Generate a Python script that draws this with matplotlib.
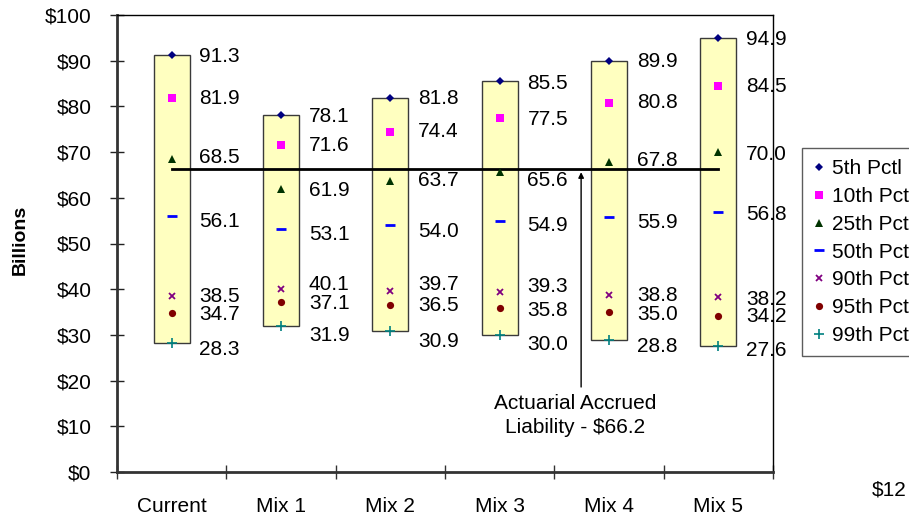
import matplotlib
matplotlib.use("Agg")
import matplotlib.pyplot as plt
from matplotlib.lines import Line2D

plt.rcParams['font.family'] = ['Liberation Sans', 'DejaVu Sans']

categories = ["Current", "Mix 1", "Mix 2", "Mix 3", "Mix 4", "Mix 5"]

pct_5 = [91.3, 78.1, 81.8, 85.5, 89.9, 94.9]
pct_10 = [81.9, 71.6, 74.4, 77.5, 80.8, 84.5]
pct_25 = [68.5, 61.9, 63.7, 65.6, 67.8, 70.0]
pct_50 = [56.1, 53.1, 54.0, 54.9, 55.9, 56.8]
pct_90 = [38.5, 40.1, 39.7, 39.3, 38.8, 38.2]
pct_95 = [34.7, 37.1, 36.5, 35.8, 35.0, 34.2]
pct_99 = [28.3, 31.9, 30.9, 30.0, 28.8, 27.6]

series_names = ["5th Pctl", "10th Pctl", "25th Pctl", "50th Pctl",
                "90th Pctl", "95th Pctl", "99th Pctl"]

liability = 66.2
liability_text = "Actuarial Accrued\nLiability - $66.2"

yticks = [0, 10, 20, 30, 40, 50, 60, 70, 80, 90, 100]
ytick_labels = ["$" + str(v) for v in yticks]

FS = 15

fig = plt.figure(figsize=(9.09, 5.16), dpi=100)
ax = fig.add_axes([117 / 909, 44 / 516, 656 / 909, 457 / 516])

x = list(range(len(categories)))

# floating range bars from 99th to 5th percentile
heights = [hi - lo for hi, lo in zip(pct_5, pct_99)]
ax.bar(x, heights, bottom=pct_99, width=0.33, color="#FFFFC0",
       edgecolor="#3a3a3a", linewidth=1.0, zorder=2)

# liability reference line
ax.plot([x[0], x[-1]], [liability, liability], color="black", lw=2, zorder=3)

styles = [
    dict(marker="D", color="#000080", ms=4.5, mew=0),
    dict(marker="s", color="#FF00FF", ms=5.2, mew=0),
    dict(marker="^", color="#003300", ms=5.2, mew=0),
    dict(marker="_", color="#0000FF", ms=7, mew=2),
    dict(marker="x", color="#800080", ms=5, mew=1.3),
    dict(marker="o", color="#800000", ms=5.2, mew=0),
    dict(marker="+", color="#008080", ms=7, mew=1.2),
]
series = [pct_5, pct_10, pct_25, pct_50, pct_90, pct_95, pct_99]

# vertical nudges (pixels, up positive) keeping value labels apart
label_nudge = [
    [-2, -1, 0, -2, 0, -1],
    [-1, -1, 0, -2, 0, -1],
    [1, -1, 0, -8, 2, -2],
    [-6, -5, -6, -4, -6, -2],
    [0, 4, 6, 6, -1, -2],
    [-1, -1, 0, -2, -2, -1],
    [-7, -9, -11, -10, -6, -5],
]

handles = []
for vals, st, name, nudges in zip(series, styles, series_names, label_nudge):
    ax.plot(x, vals, linestyle="none", zorder=4, **st)
    handles.append(Line2D([], [], linestyle="none", label=name, **st))
    for xi, v, dy in zip(x, vals, nudges):
        ax.annotate(f"{v:.1f}", xy=(xi, v), xytext=(20, dy * 0.72),
                    textcoords="offset points", ha="left", va="center",
                    fontsize=FS, color="black", zorder=5)

# annotation with arrow pointing at the liability line
ax.annotate("", xy=(3.745, liability - 0.6), xytext=(3.745, 18.6),
            arrowprops=dict(arrowstyle="-|>", color="black", lw=1,
                            mutation_scale=8, shrinkA=0, shrinkB=0),
            zorder=3)
ax.text(3.69, 12.4, liability_text, ha="center", va="center",
        fontsize=FS, linespacing=1.3)

ax.set_xlim(-0.5, len(categories) - 0.5)
ax.set_ylim(0, 100)

ax.set_yticks(yticks)
ax.set_yticklabels(ytick_labels, fontsize=FS)
ax.tick_params(axis="y", direction="inout", length=10, width=1,
               pad=13.5, colors="#222222", labelcolor="black")

ax.set_xticks(x)
ax.set_xticklabels(categories, fontsize=FS)
ax.set_xticks([i - 0.5 for i in range(len(categories) + 1)], minor=True)
ax.tick_params(axis="x", which="major", length=0, pad=18)
ax.tick_params(axis="x", which="minor", direction="inout", length=10,
               width=1, colors="#333333")

for side in ("left", "bottom"):
    ax.spines[side].set_linewidth(2)
    ax.spines[side].set_color("#333333")
for side in ("top", "right"):
    ax.spines[side].set_linewidth(1)
    ax.spines[side].set_color("black")

fig.text(20 / 909, 1 - 240 / 516, "Billions", rotation=90, ha="center",
         va="center", fontsize=14, fontweight="bold")

fig.text(872 / 909, 1 - 490 / 516, "$12", ha="left", va="center",
         fontsize=FS)

leg = fig.legend(handles=handles, loc="upper left",
                 bbox_to_anchor=(802 / 909, 1 - 148 / 516),
                 borderaxespad=0, fontsize=FS, frameon=True, fancybox=False,
                 handlelength=0.5, handletextpad=0.4, labelspacing=0.42,
                 borderpad=0.55, numpoints=1)
leg.get_frame().set_edgecolor("#333333")
leg.get_frame().set_linewidth(1)

fig.savefig("out.png", dpi=100)
